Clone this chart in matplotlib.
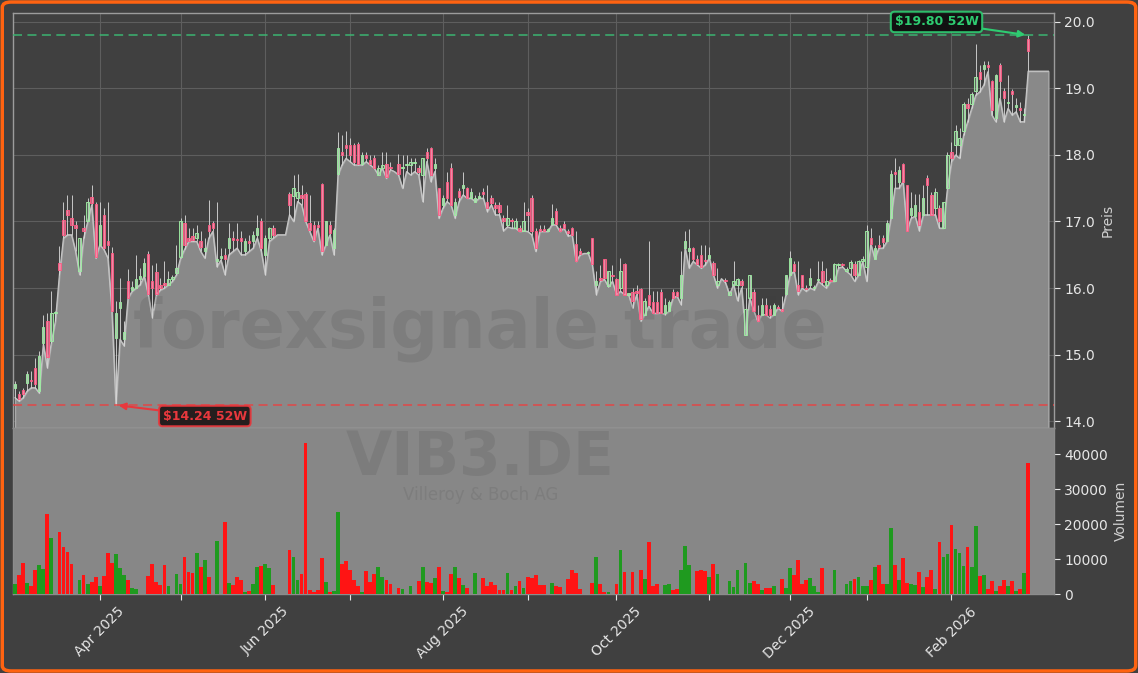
import numpy as np
import pandas as pd
import matplotlib
matplotlib.use('Agg')
import matplotlib.pyplot as plt
from matplotlib.patches import FancyBboxPatch

# ---------------- data (trading-day series, starting 2025-03-03) ----------------
start_date = '2025-03-03'
holidays = ['2025-04-18', '2025-04-21', '2025-05-01', '2025-12-24', '2025-12-25',
            '2025-12-26', '2025-12-31', '2026-01-01']

opens = [
    14.50, 14.40, 14.47, 14.57, 14.62, 14.80, 14.45, 15.18, 15.50, 15.20,
    15.62, 16.37, 17.03, 17.18, 17.05, 16.95, 16.25, 16.90, 17.00, 17.37,
    17.27, 16.65, 17.10, 16.70, 16.53, 15.25, 15.70, 15.24, 16.10, 15.97,
    16.00, 16.14, 16.18, 16.51, 16.10, 16.24, 16.05, 16.08, 16.05, 16.14,
    16.22, 16.47, 16.98, 16.75, 16.78, 16.75, 16.70, 16.55, 16.95, 16.97,
    16.40, 16.45, 16.50, 16.60, 16.75, 16.74, 16.75, 16.55, 16.70, 16.70,
    16.80, 17.00, 16.50, 16.75, 16.90, 16.80, 16.80, 16.80, 17.42, 17.38,
    17.35, 17.40, 17.42, 16.97, 16.95, 16.95, 17.56, 16.65, 16.95, 16.60,
    17.72, 18.05, 18.15, 18.15, 18.15, 18.17, 17.86, 18.00, 17.92, 17.96,
    17.70, 17.80, 17.87, 17.82, 17.75, 17.86, 17.80, 17.85, 17.85, 17.88,
    17.80, 17.70, 18.05, 18.10, 17.80, 17.50, 17.25, 17.60, 17.80, 17.10,
    17.46, 17.50, 17.50, 17.35, 17.30, 17.35, 17.45, 17.30, 17.36, 17.25,
    17.25, 17.05, 16.95, 17.02, 16.90, 16.90, 16.86, 17.15, 17.36, 16.86,
    16.88, 16.88, 16.86, 16.96, 17.16, 16.90, 16.96, 16.85, 16.90, 16.66,
    16.55, 16.52, 16.52, 16.75, 16.05, 16.15, 16.44, 16.03, 16.20, 16.13,
    16.00, 16.36, 15.90, 15.94, 15.95, 15.99, 15.60, 15.90, 15.79, 15.79,
    15.94, 15.63, 15.65, 15.94, 15.94, 15.85, 16.60, 16.55, 16.60, 16.44,
    16.50, 16.42, 16.45, 16.38, 16.05, 16.14, 16.12, 15.90, 16.05, 16.05,
    16.10, 15.30, 15.85, 15.94, 15.60, 15.60, 15.75, 15.69, 15.60, 15.72,
    15.69, 15.91, 16.20, 16.36, 16.05, 16.20, 16.00, 16.05, 16.00, 16.12,
    16.25, 16.05, 16.12, 16.11, 16.35, 16.36, 16.25, 16.30, 16.36, 16.20,
    16.40, 16.32, 16.75, 16.44, 16.65, 16.75, 16.70, 17.05, 17.75, 17.60,
    17.86, 17.55, 17.10, 17.08, 17.15, 17.10, 17.65, 17.40, 17.20, 17.20,
    16.90, 17.50, 18.05, 18.15, 18.15, 18.36, 18.76, 18.76, 18.96, 19.25,
    19.30, 19.35, 19.11, 18.56, 19.36, 18.96, 18.78, 18.96, 18.72, 18.70,
    18.60, 19.75,
]
highs = [
    14.60, 14.45, 14.50, 14.75, 14.75, 14.95, 15.05, 15.60, 15.62, 15.95,
    15.65, 16.63, 17.30, 17.40, 17.40, 17.00, 16.75, 17.10, 17.35, 17.55,
    17.30, 17.30, 17.20, 17.30, 16.62, 15.80, 16.15, 15.50, 16.28, 16.10,
    16.50, 16.30, 16.45, 16.55, 16.35, 16.38, 16.15, 16.40, 16.25, 16.20,
    16.65, 17.05, 17.10, 16.90, 16.90, 16.95, 16.85, 16.75, 17.33, 17.00,
    17.30, 16.60, 16.60, 16.97, 16.85, 16.97, 16.85, 16.75, 16.80, 16.85,
    17.10, 17.05, 16.80, 16.92, 16.95, 16.80, 16.80, 16.80, 17.45, 17.70,
    17.72, 17.55, 17.45, 17.40, 17.00, 17.00, 17.58, 17.00, 17.00, 16.90,
    18.35, 18.30, 18.36, 18.25, 18.18, 18.20, 18.05, 18.05, 18.00, 18.00,
    17.85, 18.05, 18.05, 17.90, 17.75, 18.02, 18.00, 18.00, 17.95, 17.95,
    17.85, 17.95, 18.10, 18.12, 17.95, 17.50, 17.40, 17.75, 17.88, 17.35,
    17.50, 17.75, 17.52, 17.50, 17.40, 17.45, 17.50, 17.55, 17.40, 17.30,
    17.30, 17.10, 17.25, 17.05, 17.05, 16.95, 17.30, 17.20, 17.40, 16.90,
    16.95, 16.95, 16.90, 17.27, 17.20, 16.95, 17.00, 16.88, 16.92, 16.85,
    16.60, 16.52, 16.55, 16.75, 16.25, 16.35, 16.44, 16.25, 16.35, 16.15,
    16.45, 16.38, 15.92, 16.00, 16.05, 16.00, 15.85, 16.70, 15.95, 15.95,
    15.98, 15.85, 15.82, 15.98, 15.96, 16.55, 16.85, 16.88, 16.62, 16.50,
    16.65, 16.65, 16.62, 16.40, 16.30, 16.14, 16.15, 15.96, 16.40, 16.15,
    16.14, 16.00, 16.20, 15.98, 15.75, 15.85, 15.85, 15.75, 15.78, 15.75,
    15.88, 16.20, 16.55, 16.40, 16.40, 16.20, 16.05, 16.30, 16.05, 16.40,
    16.40, 16.30, 16.15, 16.38, 16.38, 16.38, 16.32, 16.42, 16.40, 16.42,
    16.48, 16.95, 16.90, 16.65, 16.80, 16.80, 17.02, 17.78, 17.95, 17.83,
    17.88, 17.55, 17.45, 17.42, 17.42, 17.55, 17.70, 17.45, 17.50, 17.25,
    17.30, 18.05, 18.20, 18.45, 18.40, 18.80, 18.85, 18.95, 19.67, 19.36,
    19.42, 19.42, 19.13, 19.22, 19.38, 19.00, 19.20, 18.99, 18.85, 18.80,
    18.70, 19.80,
]
lows = [
    14.35, 14.30, 14.35, 14.45, 14.50, 14.50, 14.42, 15.15, 14.80, 15.18,
    15.50, 16.20, 16.75, 16.80, 16.80, 16.55, 16.20, 16.75, 17.00, 17.25,
    16.45, 16.65, 16.58, 16.45, 15.65, 14.24, 15.23, 15.13, 15.85, 15.95,
    16.00, 16.05, 16.18, 15.90, 15.55, 15.90, 15.97, 16.00, 16.05, 16.10,
    16.20, 16.45, 16.58, 16.70, 16.70, 16.70, 16.55, 16.45, 16.75, 16.85,
    16.32, 16.42, 16.20, 16.50, 16.55, 16.60, 16.50, 16.50, 16.55, 16.60,
    16.75, 16.55, 16.20, 16.70, 16.75, 16.80, 16.80, 16.80, 17.10, 17.00,
    17.30, 17.25, 17.00, 16.85, 16.70, 16.90, 16.50, 16.65, 16.80, 16.50,
    17.70, 17.85, 17.95, 17.90, 17.85, 17.85, 17.85, 17.90, 17.85, 17.80,
    17.70, 17.80, 17.65, 17.78, 17.75, 17.70, 17.50, 17.75, 17.70, 17.75,
    17.70, 17.30, 17.90, 17.60, 17.75, 17.05, 17.20, 17.30, 17.25, 17.05,
    17.30, 17.40, 17.35, 17.35, 17.30, 17.35, 17.35, 17.15, 17.25, 17.10,
    17.10, 16.86, 16.92, 16.90, 16.90, 16.85, 16.86, 16.85, 16.80, 16.55,
    16.85, 16.85, 16.85, 16.95, 16.95, 16.85, 16.90, 16.78, 16.80, 16.40,
    16.50, 16.52, 16.52, 16.35, 15.90, 16.10, 16.13, 16.02, 16.10, 15.90,
    15.95, 15.90, 15.90, 15.70, 15.90, 15.50, 15.60, 15.73, 15.62, 15.62,
    15.63, 15.60, 15.65, 15.85, 15.88, 15.75, 16.60, 16.30, 16.40, 16.35,
    16.30, 16.35, 16.45, 16.20, 16.00, 16.14, 16.08, 15.90, 16.05, 15.81,
    16.00, 15.30, 15.85, 15.66, 15.50, 15.60, 15.60, 15.55, 15.60, 15.70,
    15.65, 15.90, 16.20, 16.25, 15.90, 16.00, 15.95, 16.00, 15.97, 16.10,
    16.05, 16.00, 16.10, 16.10, 16.30, 16.32, 16.25, 16.20, 16.10, 16.20,
    16.40, 16.10, 16.66, 16.44, 16.60, 16.60, 16.70, 17.05, 17.50, 17.50,
    17.60, 16.86, 17.05, 17.08, 16.86, 17.10, 17.10, 17.10, 17.10, 16.90,
    16.90, 17.50, 17.90, 18.00, 17.95, 18.30, 18.50, 18.70, 18.90, 18.95,
    19.05, 19.25, 18.60, 18.50, 18.85, 18.50, 18.70, 18.60, 18.65, 18.50,
    18.50, 19.26,
]
closes = [
    14.55, 14.33, 14.40, 14.70, 14.60, 14.55, 14.98, 15.42, 14.97, 15.62,
    15.63, 16.27, 16.80, 17.10, 16.95, 16.90, 16.75, 16.85, 17.30, 17.28,
    16.47, 16.95, 16.60, 16.65, 15.66, 15.62, 15.79, 15.34, 15.85, 16.01,
    16.14, 16.18, 16.37, 15.91, 16.00, 15.91, 16.00, 16.05, 16.14, 16.15,
    16.30, 17.00, 16.64, 16.70, 16.72, 16.82, 16.62, 16.60, 16.85, 16.90,
    16.43, 16.48, 16.44, 16.75, 16.72, 16.72, 16.70, 16.70, 16.68, 16.80,
    16.90, 16.60, 16.75, 16.90, 16.80, 16.80, 16.80, 16.80, 17.25, 17.50,
    17.45, 17.35, 17.00, 16.87, 16.72, 16.92, 16.55, 17.00, 16.82, 16.87,
    18.10, 18.00, 18.10, 18.00, 17.90, 17.86, 18.00, 17.95, 17.86, 17.80,
    17.80, 17.85, 17.67, 17.80, 17.75, 17.72, 17.82, 17.85, 17.90, 17.88,
    17.75, 17.95, 17.95, 17.70, 17.86, 17.10, 17.35, 17.35, 17.25, 17.30,
    17.37, 17.55, 17.35, 17.45, 17.35, 17.38, 17.42, 17.20, 17.28, 17.20,
    17.15, 17.00, 17.05, 17.00, 17.00, 16.86, 17.00, 17.10, 16.86, 16.60,
    16.85, 16.86, 16.88, 17.06, 16.96, 16.85, 16.90, 16.82, 16.80, 16.41,
    16.51, 16.52, 16.52, 16.36, 16.10, 16.12, 16.15, 16.25, 16.18, 15.90,
    16.25, 15.90, 15.90, 15.80, 15.93, 15.54, 15.80, 15.75, 15.63, 15.63,
    15.63, 15.75, 15.79, 15.85, 15.88, 16.20, 16.70, 16.60, 16.44, 16.36,
    16.32, 16.40, 16.50, 16.20, 16.10, 16.14, 16.10, 15.94, 16.10, 16.14,
    16.05, 15.69, 16.20, 15.66, 15.50, 15.75, 15.60, 15.60, 15.75, 15.70,
    15.65, 16.20, 16.45, 16.25, 15.95, 16.02, 15.98, 16.15, 16.02, 16.14,
    16.09, 16.10, 16.10, 16.36, 16.36, 16.34, 16.29, 16.39, 16.20, 16.40,
    16.44, 16.85, 16.66, 16.60, 16.62, 16.69, 16.97, 17.72, 17.72, 17.78,
    17.60, 16.86, 17.20, 17.25, 16.95, 17.35, 17.55, 17.10, 17.45, 17.00,
    17.30, 18.00, 17.96, 18.36, 18.25, 18.76, 18.70, 18.92, 19.17, 19.15,
    19.36, 19.33, 18.67, 19.20, 19.11, 18.86, 18.80, 18.92, 18.75, 18.68,
    18.62, 19.56,
]
volumes = [
    2860, 5500, 8860, 3140, 2300, 6860, 8190, 7140, 22860, 16000,
    0, 17600, 13500, 12000, 8670, 0, 4000, 5430, 2860, 3430,
    4860, 2290, 5240, 11800, 8950, 11430, 7430, 5430, 4100, 1710,
    1430, 0, 0, 5240, 8670, 3520, 2670, 8380, 2290, 0,
    5710, 2860, 10670, 6380, 6100, 11700, 7710, 9710, 4860, 0,
    15140, 0, 20570, 3140, 2670, 4950, 4000, 570, 950, 2860,
    7710, 8000, 8570, 7430, 2570, 0, 0, 0, 12570, 10570,
    4000, 5700, 43200, 1100, 600, 1100, 10400, 3500, 700, 1000,
    23400, 8600, 9300, 7000, 4000, 2300, 700, 6500, 3300, 5700,
    7800, 4900, 4100, 2800, 0, 1600, 1500, 0, 2300, 0,
    3600, 7700, 3300, 3100, 4700, 7800, 900, 700, 5700, 7800,
    4700, 2500, 1700, 0, 5900, 0, 4600, 2300, 3300, 2500,
    1200, 1200, 5900, 1200, 2300, 3600, 1700, 4900, 4600, 5400,
    2500, 2500, 0, 3100, 2300, 2000, 0, 4400, 6800, 5900,
    1400, 0, 0, 3100, 10500, 2800, 700, 600, 0, 2800,
    12500, 6300, 0, 6300, 0, 6800, 4400, 14900, 2400, 2800,
    0, 2500, 2800, 1200, 1400, 7000, 13800, 8400, 0, 6700,
    7000, 6500, 4900, 8600, 5700, 0, 0, 3600, 2000, 7000,
    0, 8800, 3100, 3600, 2800, 1200, 1700, 1700, 2300, 0,
    4200, 1700, 7300, 5400, 9700, 2800, 4000, 4600, 2300, 700,
    7500, 0, 0, 6900, 0, 0, 2800, 3800, 4300, 4950,
    2400, 2400, 4000, 7700, 8300, 2860, 2860, 18860, 8300, 4000,
    10200, 3050, 2860, 2480, 6290, 2000, 4950, 6860, 1330, 14860,
    10670, 11430, 19710, 12760, 11810, 8000, 13520, 7810, 19430, 5140,
    5430, 1430, 3810, 950, 2380, 4000, 2290, 3710, 950, 1520,
    6000, 37520,
]
# area series continues a few sessions past the last candle
low_tail = [19.26, 19.26, 19.26, 19.26, 19.26]

ticker = 'VIB3.DE'
company = 'Villeroy & Boch AG'
watermark = 'forexsignale.trade'
price_ticks = [14.0, 15.0, 16.0, 17.0, 18.0, 19.0, 20.0]
volume_ticks = [0, 10000, 20000, 30000, 40000]

# ---------------- derived ----------------
o = np.array(opens); h = np.array(highs); l = np.array(lows); c = np.array(closes)
v = np.array(volumes)
n = len(c)
x = np.arange(n)
low_area = np.concatenate([l, np.array(low_tail)])
x_area = np.arange(len(low_area))
dates = pd.bdate_range(start=start_date, periods=len(low_area), freq='C', holidays=holidays)

up = c >= o
hi52 = h.max(); lo52 = l.min()
i_hi = int(np.argmax(h)); i_lo = int(np.argmin(l))

BG = '#404040'
FILL = '#898989'
VOLBG = '#878787'

fig = plt.figure(figsize=(11.38, 6.73), dpi=100, facecolor=BG)
W, H = 1138.0, 673.0
ax = fig.add_axes([13 / W, 1 - 428 / H, 1041 / W, 415 / H])
axv = fig.add_axes([13 / W, 1 - 594 / H, 1041 / W, 166 / H], sharex=ax)

# ---------------- price panel ----------------
ax.set_facecolor(BG)
ymin, ymax = 13.895, 20.135
ax.set_ylim(ymin, ymax)
ax.set_xlim(-0.5, 257.4)
ax.set_axisbelow(True)
ax.grid(True, color='#5e5e5e', lw=0.8)

ax.fill_between(x_area, low_area, ymin, facecolor=FILL, edgecolor='#a9a9a9', lw=1.0, zorder=1)
ax.plot(x_area, low_area, color='#c4c4c4', lw=0.9, zorder=2)

ax.text(0.449, 0.24, watermark, transform=ax.transAxes, ha='center', va='center',
        fontsize=48, fontweight='bold', color='#3a3a3a', alpha=0.15, zorder=2.5)

has_range = h > l
ax.vlines(x[has_range], l[has_range], h[has_range], color='#d6d6d6', lw=0.7, alpha=0.9, zorder=3)
bottoms = np.minimum(o, c)
heights = np.maximum(np.abs(c - o), 0.018)
face = np.where(up[:, None], np.array([[0.55, 0.80, 0.58, 0.30]]), np.array([[1.0, 0.45, 0.60, 0.70]]))
edge = np.where(up[:, None], np.array([[0.62, 0.93, 0.64, 0.95]]), np.array([[1.0, 0.36, 0.52, 0.90]]))
ax.bar(x[has_range], heights[has_range], bottom=bottoms[has_range], width=0.6,
       color=face[has_range], edgecolor=edge[has_range], linewidth=0.7, zorder=4)

ax.axhline(hi52, color='#3cb371', ls=(0, (5, 3)), lw=1.3, alpha=0.85, zorder=5)
ax.axhline(lo52, color='#e04848', ls=(0, (5, 3)), lw=1.3, alpha=0.85, zorder=5)

ax.annotate('\\$%.2f 52W' % hi52, xy=(i_hi, hi52), xytext=(-66, 9.6), textcoords='offset points',
            ha='center', va='center', fontsize=9, fontweight='bold', color='#2ecc71',
            bbox=dict(boxstyle='round,pad=0.3', fc='#0c0c0c', ec='#2ecc71', lw=1.5, alpha=0.9),
            arrowprops=dict(arrowstyle='-|>', color='#2ecc71', lw=1.5, mutation_scale=10,
                            shrinkA=0, shrinkB=2), zorder=7)
ax.annotate('\\$%.2f 52W' % lo52, xy=(i_lo, lo52), xytext=(64, -7.9), textcoords='offset points',
            ha='center', va='center', fontsize=9, fontweight='bold', color='#e8383d',
            bbox=dict(boxstyle='round,pad=0.3', fc='#1a1212', ec='#e8383d', lw=1.5, alpha=0.9),
            arrowprops=dict(arrowstyle='-|>', color='#e8383d', lw=1.5, mutation_scale=10,
                            shrinkA=0, shrinkB=2), zorder=7)

ax.yaxis.tick_right()
ax.yaxis.set_label_position('right')
ax.set_yticks(price_ticks)
ax.set_yticklabels(['%.1f' % t for t in price_ticks])
ax.tick_params(axis='y', colors='#e6e6e6', labelsize=10, length=4, width=0.8)
ax.set_ylabel('Preis', color='#d0d0d0', fontsize=10)
ax.tick_params(axis='x', which='both', bottom=False, labelbottom=False)
for s in ax.spines.values():
    s.set_color('#9c9c9c'); s.set_linewidth(1.0)

# ---------------- volume panel ----------------
axv.set_facecolor(VOLBG)
vcol = np.where(up, '#1f9a1f', '#ff1414')
axv.bar(x, v, width=0.92, color=vcol, linewidth=0, zorder=3)
axv.set_ylim(0, 47500)
axv.yaxis.tick_right()
axv.yaxis.set_label_position('right')
axv.set_yticks(volume_ticks)
axv.set_yticklabels([str(t) for t in volume_ticks])
axv.tick_params(axis='y', colors='#e6e6e6', labelsize=10, length=4, width=0.8)
axv.set_ylabel('Volumen', color='#d0d0d0', fontsize=10)
for s in axv.spines.values():
    s.set_color('#8c8c8c'); s.set_linewidth(1.0)

axv.text(0.449, 0.815, ticker, transform=axv.transAxes, ha='center', va='center',
         fontsize=43, fontweight='bold', color='#3a3a3a', alpha=0.14, zorder=2)
axv.text(0.449, 0.595, company, transform=axv.transAxes, ha='center', va='center',
         fontsize=12, color='#3a3a3a', alpha=0.13, zorder=2)

# month ticks at first session of each month, label every second month
d = dates[:n]
tick_pos = [i for i in range(1, n) if d[i].month != d[i - 1].month]
tick_lab = [d[i].strftime('%b %Y') if d[i].month % 2 == 0 else '' for i in tick_pos]
axv.set_xticks(tick_pos)
axv.set_xticklabels(tick_lab, rotation=45, ha='center')
axv.tick_params(axis='x', colors='#e6e6e6', labelsize=10, length=4, width=0.8)
ax.set_xticks(tick_pos)

# orange frame
frame = FancyBboxPatch((0.002, 0.003), 0.996, 0.994, boxstyle='round,pad=0,rounding_size=0.008',
                       transform=fig.transFigure, facecolor='none', edgecolor='#ff6311', lw=2.5,
                       zorder=10)
fig.patches.append(frame)

fig.savefig('out.png', dpi=100, facecolor=BG)
